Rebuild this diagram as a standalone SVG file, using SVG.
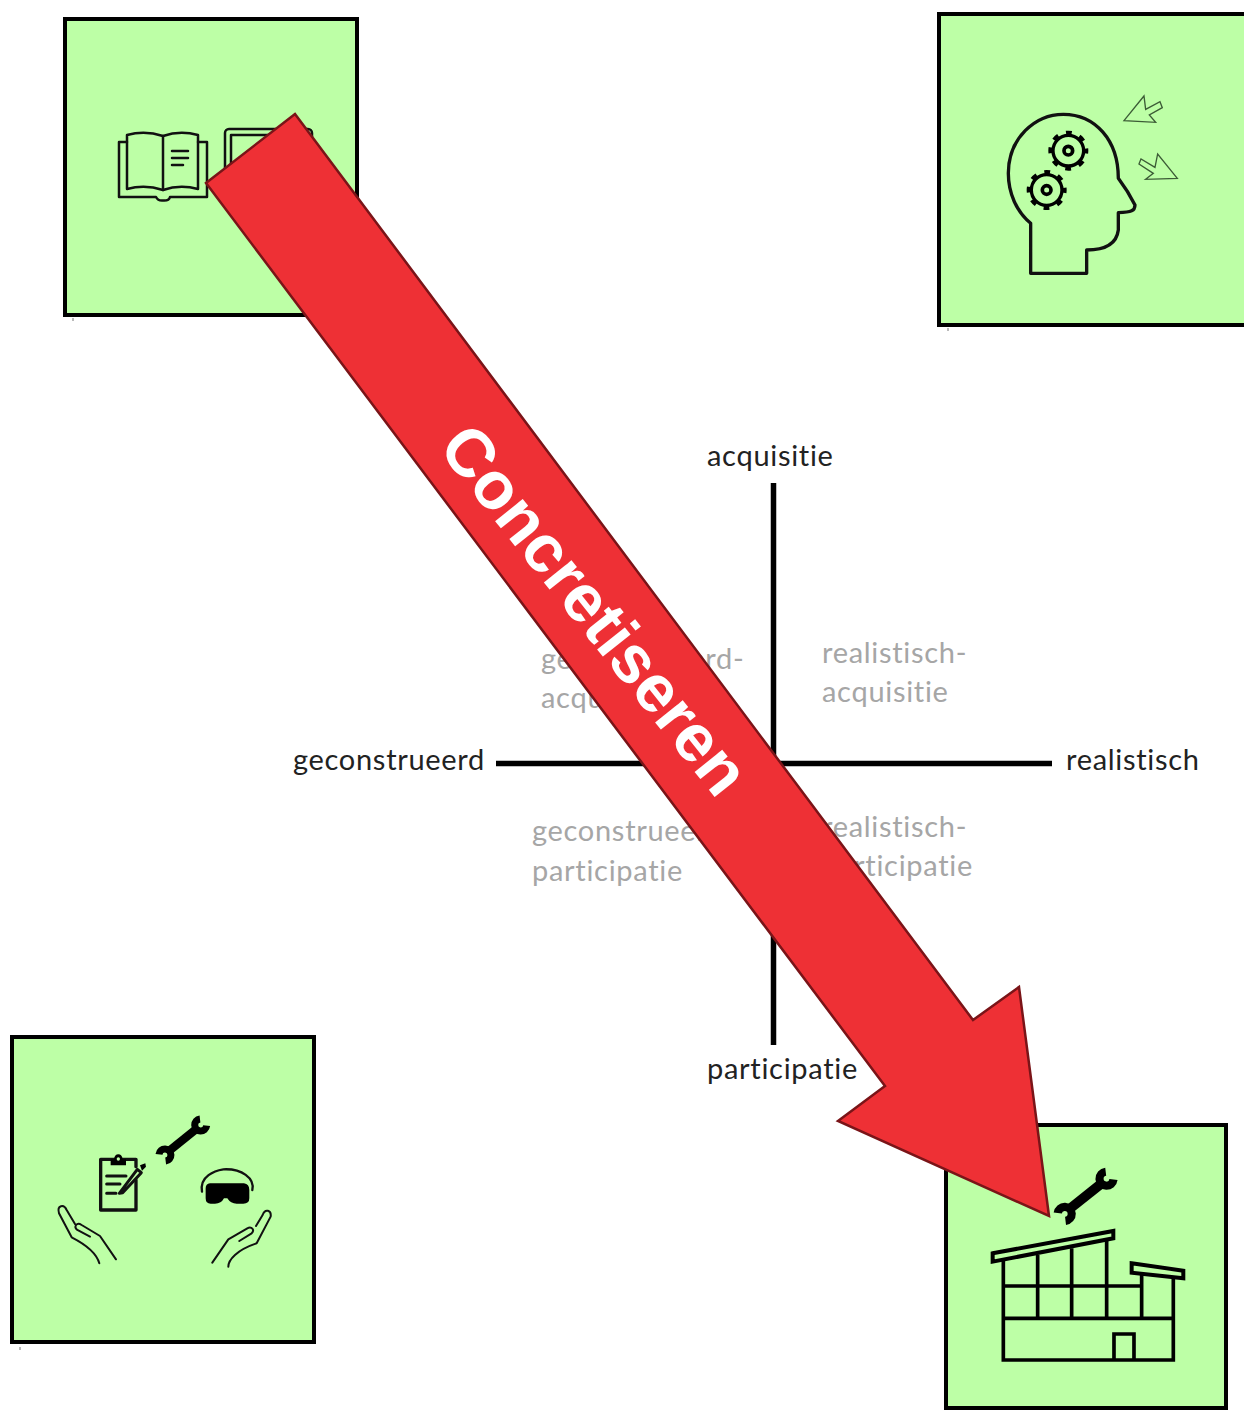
<svg xmlns="http://www.w3.org/2000/svg" width="1244" height="1411" viewBox="0 0 1244 1411">
<style>
.box{fill:#bdffa6;stroke:#000;stroke-width:4}
.tick{stroke:#777;stroke-width:1;fill:none}
.axis{stroke:#000;stroke-width:5.500;fill:none}
.lbl,.q{font-family:"Lato","Carlito","Liberation Sans",sans-serif;font-size:29px;letter-spacing:.7px;font-variant-ligatures:none}
.lbl{fill:#222}
.q{fill:#a6a6a6}
.ln{fill:none;stroke:#111;stroke-linejoin:round;stroke-linecap:round}
.ttl{font-family:"Liberation Sans",Arial,sans-serif;font-weight:bold;font-size:67px;fill:#fff}
</style>
<defs>
<g id="wrench">
<path d="M388,152 L468,88" fill="none" stroke="#000" stroke-width="25"/>
<path d="M480,57 A18,18 0 1 0 500,77" fill="none" stroke="#000" stroke-width="21"/>
<path d="M377,183 A18,18 0 1 0 357,163" fill="none" stroke="#000" stroke-width="21"/>
</g>
<g id="gear">
<circle r="46" fill="none" stroke="#000" stroke-width="10"/>
<circle r="52" fill="none" stroke="#000" stroke-width="16" stroke-dasharray="17 23.840" stroke-dashoffset="8.500"/>
<circle r="13" fill="none" stroke="#000" stroke-width="11"/>
</g>
</defs>

<g id="node-top-left">
<rect class="box" x="65" y="19" width="292" height="296"/>
<path class="tick" d="M73,318V321"/>
<g class="ln" stroke-width="2.500">
<path d="M127,142H119V197H156Q158,201 163,200.500Q169,201 170,197H207V142H198"/>
<path d="M127,189V135Q145,130 163,136Q180,130 198,135V189Q180,184 163,190Q145,184 127,189Z"/>
<path d="M163,136V190"/>
<path d="M172,151H188M172,158H188M172,165H183"/>
<rect x="225" y="129" width="87" height="72" rx="4"/>
<rect x="231" y="135" width="75" height="60"/>
</g>
</g>

<g id="node-top-right">
<rect class="box" x="939" y="14" width="311" height="311"/>
<path class="tick" d="M948,328V331"/>
<g transform="translate(980,80) scale(.3333)">
<path class="ln" stroke-width="10" d="M152,580V430C110,395 85,340 85,280C85,175 165,103 250,103C345,103 415,180 415,295C430,315 450,345 465,375C465,392 455,397 415,398V450C410,490 380,510 320,510V580Z"/>
<use href="#gear" transform="translate(265,212)"/>
<use href="#gear" transform="translate(200,330)"/>
<path d="M432,122L492,48L497,88L540,65L547,83L508,105L527,127Z" fill="none" stroke="#3c5c36" stroke-width="4"/>
<path d="M592,295L533,222L525,262L483,237L477,252L520,280L497,298Z" fill="none" stroke="#3c5c36" stroke-width="4"/>
</g>
</g>

<g id="node-bottom-left">
<rect class="box" x="12" y="1037" width="302" height="305"/>
<path class="tick" d="M20,1347V1350"/>
<g transform="translate(40,1100) scale(.3333)">
<use href="#wrench"/>
<path class="ln" stroke-width="10" d="M288,240V330H182V178H288V200"/>
<path d="M212,196V178H222Q224,163 235,163Q246,163 248,178H258V196Z" fill="#000"/>
<circle cx="235" cy="177" r="5" fill="#bdffa6"/>
<path class="ln" stroke-width="9" d="M200,228H258M200,252H240M200,280H228"/>
<path class="ln" stroke-width="9" d="M238,280L292,208L304,218L248,278Z"/>
<path d="M300,196L316,190L318,200L306,212Z" fill="#000"/>
<path class="ln" stroke-width="7" d="M486,275C478,228 525,212 550,208C605,205 645,235 637,270"/>
<path d="M510,250H612Q628,252 628,270V295Q628,311 610,311H590Q572,311 562,295H552Q544,311 525,311H512Q497,311 497,295V265Q497,252 510,250Z" fill="#000"/>
<path class="ln" stroke-width="6" d="M178,490C170,460 140,435 95,412L57,340C50,315 72,312 80,330L105,372M150,410L112,390C100,380 110,365 125,375L180,408L228,478"/>
<path class="ln" stroke-width="6" d="M565,500C565,480 590,450 650,430L692,350C695,330 675,325 668,345L648,378M598,423L635,400C645,390 635,378 622,385L565,418L517,488"/>
</g>
</g>

<g id="node-bottom-right">
<rect class="box" x="946" y="1125" width="280" height="283"/>
<use href="#wrench" transform="translate(918.500,1149.500) scale(.39)"/>
<g transform="translate(970,1150) scale(.3333)">
<g fill="none" stroke="#000" stroke-width="11">
<path d="M100,330V630H610V380M100,505H610M100,408H515M203,315V505M305,295V505M410,265V505M515,370V505"/>
<path d="M432,630V552H492V630"/>
<path d="M68,310L430,243V265L68,335Z" stroke-width="12"/>
<path d="M485,340L640,362V385L485,368Z" stroke-width="12"/>
</g>
</g>
</g>

<g id="connectors">
<path class="axis" d="M773.500,483V1045"/>
<path class="axis" d="M496,763.500H1052"/>
</g>

<g id="labels">
<text class="lbl" x="707" y="466">acquisitie</text>
<text class="lbl" x="293" y="770">geconstrueerd</text>
<text class="lbl" x="1066" y="770">realistisch</text>
<text class="lbl" x="707" y="1079">participatie</text>
<text class="q" x="541" y="669">geconstrueerd-</text>
<text class="q" x="541" y="708">acquisitie</text>
<text class="q" x="822" y="663">realistisch-</text>
<text class="q" x="822" y="702">acquisitie</text>
<text class="q" x="532" y="841">geconstrueerd-</text>
<text class="q" x="532" y="881">participatie</text>
<text class="q" x="822" y="837">realistisch-</text>
<text class="q" x="822" y="876">participatie</text>
</g>

<g id="arrow-concretiseren">
<path d="M295,114L973,1020L1019,987L1049,1216L838,1121L885,1086L206,183Z" fill="#ee3035" stroke="#7a1418" stroke-width="2.500"/>
<text class="ttl" text-anchor="middle" transform="translate(577,624) rotate(51.500)">Concretiseren</text>
</g>
</svg>
